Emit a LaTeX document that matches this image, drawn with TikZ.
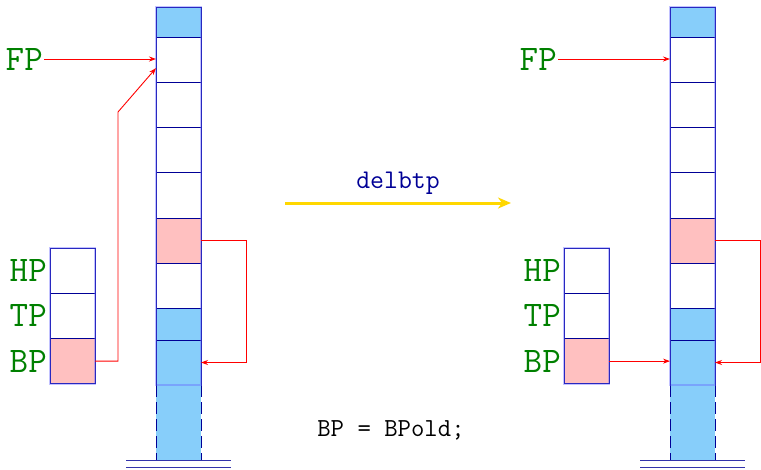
\documentclass[tikz,border=0pt]{standalone}
\usepackage{fontspec}
\usetikzlibrary{positioning, arrows.meta, calc}
\definecolor{cellblue}{RGB}{135,206,250}
\definecolor{cellpink}{RGB}{255,192,192}
\definecolor{edgeblue}{RGB}{0,0,150}
\definecolor{lblgreen}{RGB}{0,128,0}
\definecolor{opgold}{RGB}{255,215,0}
\tikzset{cell/.style={draw=edgeblue, line width=0.9pt, fill=white, minimum width=45pt,
  minimum height=45.25pt, inner sep=0pt, outer sep=0pt},
  bluecell/.style={cell, fill=cellblue},
  pinkcell/.style={cell, fill=cellpink},
  lbl/.style={text=lblgreen, font=\fontsize{36}{40}\selectfont\ttfamily, inner sep=1pt},
  ptr/.style={red, line width=0.9pt, -{Stealth[length=7pt, width=5pt]}},
  groundline/.style={edgeblue!80, line width=1pt},
}

\begin{document}
\begin{tikzpicture}[x=1pt, y=-1pt]
  \useasboundingbox (0,0) rectangle (761,469);
  % the two stacks, before and after
  \foreach \s/\x in {L/178.5, R/692.5} {
    \node[bluecell, minimum height=30pt, anchor=north] (\s0) at (\x,7) {};
    \node[cell, below=0pt of \s0] (\s1) {};
    \node[cell, below=0pt of \s1] (\s2) {};
    \node[cell, below=0pt of \s2] (\s3) {};
    \node[cell, below=0pt of \s3] (\s4) {};
    \node[pinkcell, below=0pt of \s4] (\s5) {};
    \node[cell, below=0pt of \s5] (\s6) {};
    \node[bluecell, minimum height=31.5pt, below=0pt of \s6] (\s7) {};
    \node[bluecell, minimum height=45pt, below=0pt of \s7] (\s8) {};
    \node[cell, draw=none, fill=cellblue, minimum height=75pt, below=0pt of \s8] (\s9) {};
    \draw[edgeblue, line width=0.9pt, dash pattern=on 12pt off 5pt] (\s9.north west) -- (\s9.south west);
    \draw[edgeblue, line width=0.9pt, dash pattern=on 12pt off 5pt] (\s9.north east) -- (\s9.south east);
    \draw[blue!60, opacity=0.4, line width=1.8pt] (\s0.north west) rectangle (\s8.south east);
    \draw[groundline] ($(\s9.south)+(-52.5,0)$) -- ++(105,0);
    \draw[groundline] ($(\s9.south)+(-52.5,7)$) -- ++(105,0);
    % registers
    \node[cell, anchor=north] (\s-h) at (\x-106,248) {};
    \node[cell, below=0pt of \s-h] (\s-t) {};
    \node[pinkcell, below=0pt of \s-t] (\s-b) {};
    \draw[blue!60, opacity=0.4, line width=1.8pt] (\s-h.north west) rectangle (\s-b.south east);
    \node[lbl, left=2pt of \s-h] (\s-hlbl) {HP};
    \node[lbl, left=2pt of \s-t] (\s-tlbl) {TP};
    \node[lbl, left=2pt of \s-b] (\s-blbl) {BP};
    \node[lbl, anchor=east] (\s-flbl) at (\x-134.5,59) {FP};
    % pointers
    \draw[ptr] (\s-flbl.east) -- (\s-flbl.east -| \s1.west);
    \draw[ptr] (\s5.east) -- ++(45,0) |- (\s8.east);
  }
  \coordinate (Lbend) at (118,112);
  \draw[ptr] (L-b.east) -| (Lbend) -- ($(L1.west)+(0,8.5)$);
  \draw[ptr] (R-b.east) -- (R-b.east -| R8.west);
  % operation
  \coordinate (op0) at (285,203);
  \coordinate (op1) at (511,203);
  \draw[opgold, line width=3pt, -{Stealth[length=13pt, width=11pt, inset=4pt]}] (op0) -- node[above=4pt, text=edgeblue, font=\fontsize{27}{30}\selectfont\ttfamily] (oplbl) {delbtp} (op1);
  \node[font=\fontsize{26}{30}\selectfont\ttfamily] (code) at (391,430) {BP = BPold;};
\end{tikzpicture}
\end{document}
